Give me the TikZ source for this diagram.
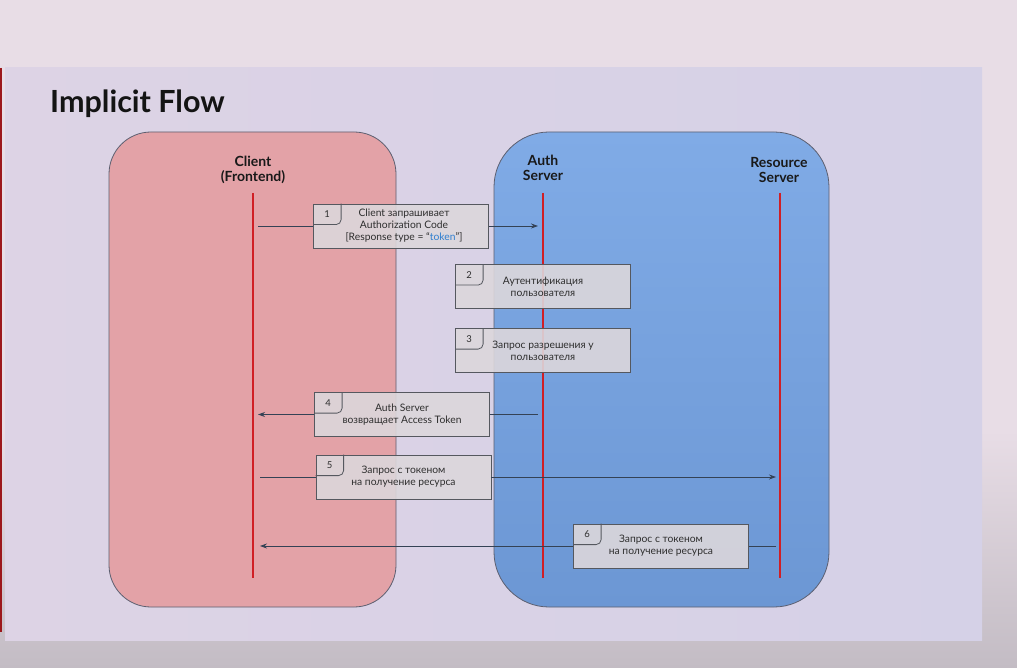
\documentclass[tikz,border=0pt]{standalone}
\usepackage{fontspec}
\setmainfont{Lato}
\usetikzlibrary{arrows.meta}

\definecolor{pagetop}{HTML}{E8DDE6}
\definecolor{pagebot}{HTML}{C3BCC4}
\definecolor{slideleft}{HTML}{DDD3E5}
\definecolor{slidemid}{HTML}{CACDEA}
\definecolor{slideright}{HTML}{D5D1E7}
\definecolor{clientfill}{HTML}{E3A2A7}
\definecolor{serverfilltop}{HTML}{80ABE6}
\definecolor{serverfillbot}{HTML}{6C97D4}
\definecolor{laneline}{HTML}{5C5F70}
\definecolor{lifered}{HTML}{D01F25}
\definecolor{boxfill}{HTML}{DCD7DB}
\definecolor{boxline}{HTML}{55585F}
\definecolor{arrowline}{HTML}{344255}
\definecolor{tokenblue}{HTML}{2F7FD0}

\begin{document}
\begin{tikzpicture}[x=1pt, y=-1pt,
    heading/.style={font=\fontsize{14}{15.5}\selectfont\bfseries, align=center, text=black!90},
    lifeline/.style={draw=lifered, line width=2.6pt},
    msgbox/.style={draw=boxline, fill=boxfill, fill opacity=0.9, text opacity=1, line width=0.8pt,
        minimum width=175pt, minimum height=44pt, inner sep=0pt, align=center,
        font=\fontsize{10.3}{12}\selectfont, text=black!82},
    msgline/.style={draw=arrowline, line width=0.8pt},
    msgarrow/.style={msgline, -{Stealth[length=7pt, width=5pt]}},
    tab/.style={draw=boxline, line width=0.8pt, rounded corners=5pt},
]
    \useasboundingbox (0,0) rectangle (1017,668);
    % Background
    \fill[pagetop] (0,0) rectangle (1017,668);
    \shade[top color=pagetop, bottom color=pagebot] (0,430) rectangle (1017,668);
    \shade[left color=slideleft, middle color=slidemid, right color=slideright] (5,68) rectangle (982,640);
    \draw[lifered!75!black, line width=1.2pt] (1,68) -- (1,632);

    % Title
    \node[anchor=base west, inner sep=0pt, font=\fontsize{30.5}{32}\selectfont\bfseries, text=black!92] (title) at (50,113) {Implicit Flow};

    % Lanes
    \draw[fill=clientfill, draw=laneline, line width=0.8pt, rounded corners=42pt] (109,132) rectangle (396,607);
    \draw[top color=serverfilltop, bottom color=serverfillbot, draw=laneline, line width=0.8pt, rounded corners=55pt] (494,132) rectangle (829,607);

    \node[heading] (client) at (253,170) {Client\\(Frontend)};
    \node[heading] (auth) at (543,168) {Auth\\Server};
    \node[heading] (resource) at (779,170) {Resource\\Server};

    % Lifelines
    \foreach \name/\x in {c/253, a/543, r/780} {
        \coordinate (\name-top) at (\x,193);
        \coordinate (\name-bot) at (\x,578);
        \draw[lifeline] (\name-top) -- (\name-bot);
    }

    % Steps
    \node[msgbox] (m1) at (401,226) {\hspace*{6pt}Client запрашивает\\\hspace*{6pt}Authorization Code\\\hspace*{6pt}{[}Response type = “\textcolor{tokenblue}{token}”{]}};
    \node[msgbox] (m2) at (543,286.5) {Аутентификация\\пользователя};
    \node[msgbox] (m3) at (543,350.5) {Запрос разрешения у\\пользователя};
    \node[msgbox] (m4) at (402,414.5) {Auth Server\\возвращает Access Token};
    \node[msgbox] (m5) at (403.5,477) {Запрос с токеном\\на получение ресурса};
    \node[msgbox] (m6) at (661,546) {Запрос с токеном\\на получение ресурса};

    \foreach \n in {1,...,6} {
        \draw[tab] ([yshift=-21pt]m\n.north west) -- ++(28,0) -- ++(0,-21);
        \node[font=\fontsize{9.5}{10}\selectfont, text=black!82] (n\n) at ([shift={(14,10.5)}]m\n.north west) {\n};
    }

    % Messages
    \draw[msgline, shorten <=5pt] (c-top |- m1) -- (m1.west);
    \draw[msgarrow, shorten >=5pt] (m1.east) -- (a-top |- m1);
    \draw[msgline, shorten <=5pt] (a-top |- m4) -- (m4.east);
    \draw[msgarrow, shorten >=5pt] (m4.west) -- (c-top |- m4);
    \draw[msgline, shorten <=7pt] (c-top |- m5) -- (m5.west);
    \draw[msgarrow, shorten >=4pt] (m5.east) -- (r-top |- m5);
    \draw[msgline, shorten <=4pt] (r-top |- m6) -- (m6.east);
    \draw[msgarrow, shorten >=7pt] (m6.west) -- (c-top |- m6);
\end{tikzpicture}
\end{document}
